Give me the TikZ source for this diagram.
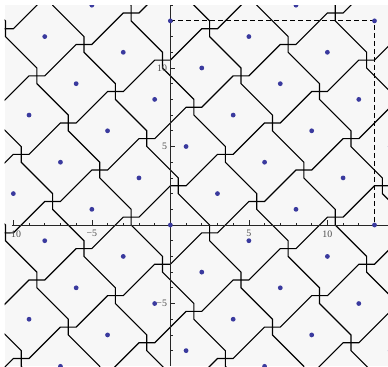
\documentclass[tikz,border=0pt]{standalone}
\usepackage{fontspec}
\setmainfont{Liberation Serif}
\definecolor{plotbg}{RGB}{247,247,247}
\definecolor{ptblue}{RGB}{58,58,158}
\begin{document}
\begin{tikzpicture}[x=11.775pt,y=11.775pt,
  cellline/.style={line width=0.85pt, black, line join=miter},
  axisline/.style={line width=0.5pt, black!85},
  ticklab/.style={font=\fontsize{7.4}{8}\selectfont, text=black!70, inner sep=0pt},
  dashbox/.style={line width=0.7pt, black, dash pattern=on 3.6pt off 2.4pt},
  latpt/.style={fill=ptblue}]
\useasboundingbox (-10.85,-8.98) rectangle (13.86,14.33);
\fill[plotbg] (-10.55,-8.98) rectangle (13.86,14.0);
\begin{scope}
  \clip (-10.55,-8.98) rectangle (13.86,14.0);
  \foreach \a in {-6,...,7}{
    \foreach \b in {-6,...,7}{
      \pgfmathtruncatemacro\px{3*\a-2*\b}
      \pgfmathtruncatemacro\py{2*\a+3*\b}
      \draw[cellline] ({\px+0.5},{\py+2.5}) -- ({\px+0.5},{\py+2}) -- ({\px+2.5},{\py}) -- ({\px+2.5},{\py-0.5});
      \draw[cellline] ({\px+0.5},{\py+2.5}) -- ({\px},{\py+2.5}) -- ({\px-2},{\py+0.5}) -- ({\px-2.5},{\py+0.5});
    }
  }
\end{scope}
% axes
\draw[axisline] (-10.1,0) -- (13.86,0);
\draw[axisline] (0,-8.98) -- (0,14.0);
\foreach \i in {-10,...,13} \draw[axisline] (\i,0) -- (\i,0.15);
\foreach \i in {-10,-5,5,10} \draw[axisline] (\i,0) -- (\i,0.3);
\foreach \j in {-8,...,14} \draw[axisline] (0,\j) -- (0.15,\j);
\foreach \j in {-5,5,10} \draw[axisline] (0,\j) -- (0.3,\j);
\node[ticklab, anchor=north] (xm10) at (-10,-0.33) {−10};
\node[ticklab, anchor=north] (xm5) at (-5,-0.33) {−5};
\node[ticklab, anchor=north] (xp5) at (5,-0.33) {5};
\node[ticklab, anchor=north] (xp10) at (10,-0.33) {10};
\node[ticklab, anchor=east] (ym5) at (-0.2,-5) {−5};
\node[ticklab, anchor=east] (yp5) at (-0.2,5) {5};
\node[ticklab, anchor=east] (yp10) at (-0.2,10) {10};
% fundamental domain
\draw[dashbox] (0,13) -- (13,13) -- (13,0);
% lattice points
\begin{scope}
  \clip (-10.55,-8.98) rectangle (13.86,14.0);
  \foreach \a in {-6,...,7}{
    \foreach \b in {-6,...,7}{
      \pgfmathtruncatemacro\px{3*\a-2*\b}
      \pgfmathtruncatemacro\py{2*\a+3*\b}
      \fill[latpt] (\px,\py) circle[radius=1.8pt];
    }
  }
\end{scope}
\end{tikzpicture}
\end{document}
